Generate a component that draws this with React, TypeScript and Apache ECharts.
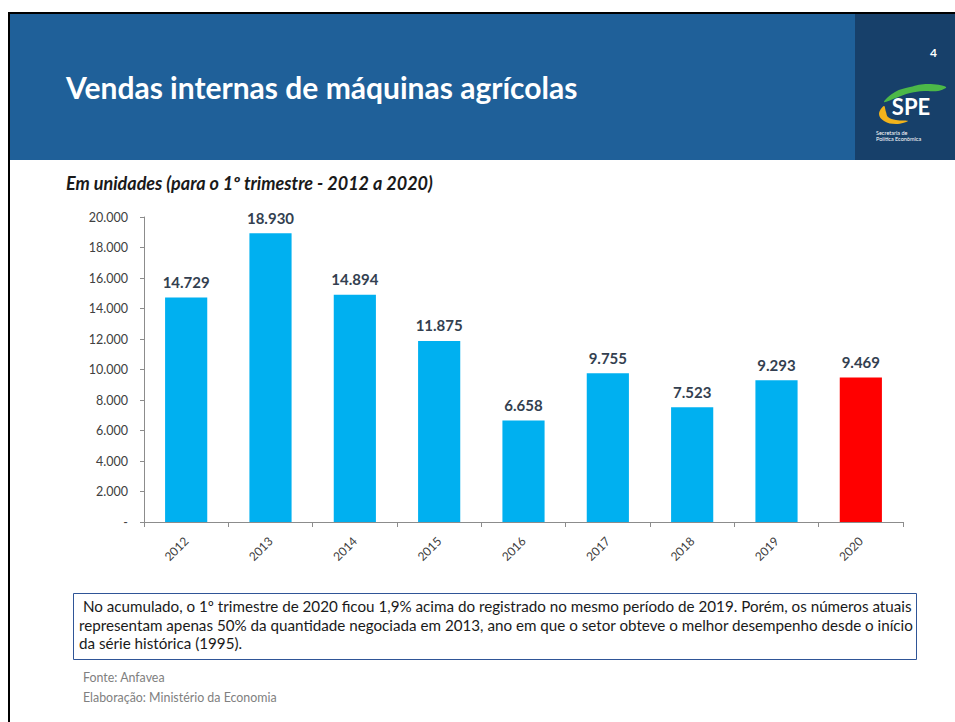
import React, { useEffect, useRef } from "react";
import * as echarts from "echarts";

const years = ["2012", "2013", "2014", "2015", "2016", "2017", "2018", "2019", "2020"];
const sales = [14729, 18930, 14894, 11875, 6658, 9755, 7523, 9293, 9469];
const highlightYear = "2020";

const titleText = "Vendas internas de máquinas agrícolas";
const subtitleText = "Em unidades (para o 1º trimestre - 2012 a 2020)";
const noteLines = [
  " No acumulado, o 1º trimestre de 2020 ficou 1,9% acima do registrado no mesmo período de 2019. Porém, os números atuais",
  "representam apenas 50% da quantidade negociada em 2013, ano em que o setor obteve o melhor desempenho desde o início",
  "da série histórica (1995).",
];
const sourceText = "Fonte: Anfavea";
const authorText = "Elaboração: Ministério da Economia";
const pageNumber = "4";

const fmt = (v: number) => (v === 0 ? "-" : String(v).replace(/\B(?=(\d{3})+(?!\d))/g, "."));

const FONT = "Lato, 'Noto Sans', sans-serif";

export default function App() {
  const ref = useRef<HTMLDivElement>(null);
  useEffect(() => {
    if (!ref.current) return;
    const chart = echarts.init(ref.current, null, { renderer: "svg" });
    chart.setOption({
      animation: false,
      backgroundColor: "#ffffff",
      textStyle: { fontFamily: FONT },
      grid: { left: 144, right: 52, top: 217, bottom: 200, containLabel: false },
      xAxis: {
        type: "category",
        data: years,
        boundaryGap: true,
        axisLine: { lineStyle: { color: "#8c8c8c", width: 1 } },
        axisTick: { show: true, length: 5, lineStyle: { color: "#8c8c8c" } },
        axisLabel: { rotate: 45, color: "#404040", fontSize: 12, margin: 17, fontFamily: FONT },
      },
      yAxis: {
        type: "value",
        min: 0,
        max: 20000,
        interval: 2000,
        splitLine: { show: false },
        axisLine: { show: true, lineStyle: { color: "#8c8c8c", width: 1 } },
        axisTick: { show: true, length: 4, lineStyle: { color: "#8c8c8c" } },
        axisLabel: { color: "#404040", fontSize: 12.5, margin: 16, formatter: fmt, fontFamily: FONT },
      },
      series: [
        {
          type: "bar",
          data: sales.map((v, i) => ({
            value: v,
            itemStyle: { color: years[i] === highlightYear ? "#ff0000" : "#00b0f0" },
          })),
          barWidth: "50%",
          label: {
            show: true,
            position: "top",
            distance: 8,
            color: "#333f50",
            fontWeight: "bold",
            fontSize: 15,
            fontFamily: FONT,
            formatter: (p: any) => fmt(p.value),
          },
        },
      ],
      graphic: [
        { type: "rect", shape: { x: 8, y: 12, width: 947, height: 2 }, style: { fill: "#000" }, z: 10 },
        { type: "rect", shape: { x: 8, y: 12, width: 2, height: 710 }, style: { fill: "#000" }, z: 10 },
        { type: "rect", shape: { x: 10, y: 14, width: 945, height: 146 }, style: { fill: "#1f6099" } },
        { type: "rect", shape: { x: 855, y: 14, width: 100, height: 146 }, style: { fill: "#17406a" } },
        {
          type: "text",
          x: 66,
          y: 87,
          style: { text: titleText, fill: "#ffffff", font: `bold 30px ${FONT}`, textVerticalAlign: "middle" },
        },
        {
          type: "text",
          x: 937,
          y: 52,
          style: { text: pageNumber, fill: "#ffffff", font: `bold 12px ${FONT}`, textAlign: "right", textVerticalAlign: "middle" },
        },
        {
          type: "polygon",
          shape: {
            points: [[884, 102], [895, 92], [910, 87], [928, 84], [946, 87], [938, 91], [924, 91], [910, 93], [896, 98]],
            smooth: 0.4,
          },
          style: { fill: "#4cb848" },
        },
        {
          type: "polygon",
          shape: {
            points: [[884, 106], [879, 114], [884, 121], [896, 124], [908, 121], [896, 120], [888, 117], [886, 112]],
            smooth: 0.4,
          },
          style: { fill: "#f2b31b" },
        },
        {
          type: "text",
          x: 911,
          y: 106,
          style: { text: "SPE", fill: "#ffffff", font: `bold 22px ${FONT}`, textAlign: "center", textVerticalAlign: "middle" },
        },
        {
          type: "text",
          x: 876,
          y: 130,
          style: { text: "Secretaria de\nPolítica Econômica", fill: "#ffffff", font: `5.5px ${FONT}`, lineHeight: 6 },
        },
        {
          type: "text",
          x: 66,
          y: 183,
          style: { text: subtitleText, fill: "#1a1a1a", font: `italic bold 18px ${FONT}`, textVerticalAlign: "middle" },
        },
        {
          type: "rect",
          shape: { x: 73.5, y: 593.5, width: 843, height: 66 },
          style: { fill: "none", stroke: "#2f5597", lineWidth: 1 },
        },
        ...noteLines.map((t, i) => ({
          type: "text",
          x: 79,
          y: 606 + i * 18.5,
          style: { text: t, fill: "#1a1a1a", font: `15.2px ${FONT}`, textVerticalAlign: "middle" },
        })),
        {
          type: "text",
          x: 83,
          y: 677,
          style: { text: sourceText, fill: "#808080", font: `12.4px ${FONT}`, textVerticalAlign: "middle" },
        },
        {
          type: "text",
          x: 83,
          y: 697,
          style: { text: authorText, fill: "#808080", font: `12.4px ${FONT}`, textVerticalAlign: "middle" },
        },
      ],
    });
    return () => chart.dispose();
  }, []);
  return (
    <div
      ref={ref}
      style={{ position: "absolute", left: 0, top: 0, width: 955, height: 722 }}
    />
  );
}
